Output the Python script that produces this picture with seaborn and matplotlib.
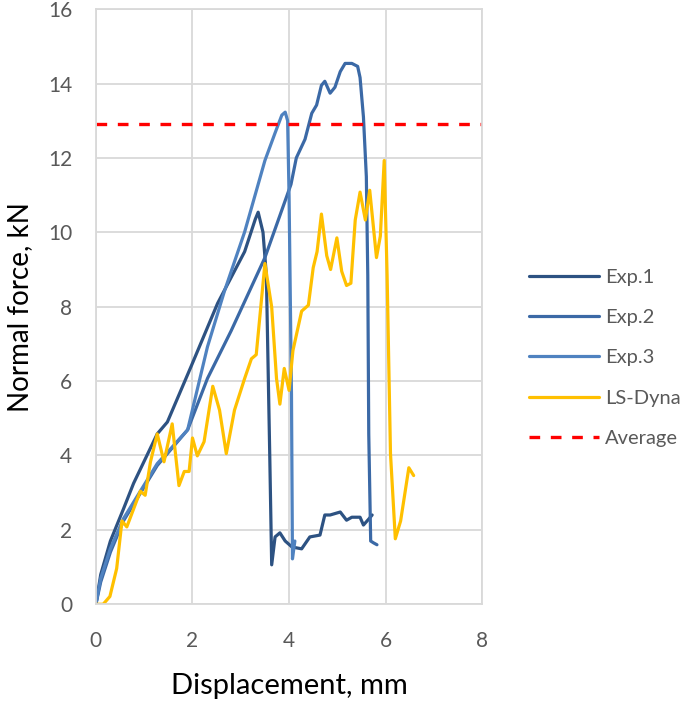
import numpy as np
import pandas as pd
import matplotlib
matplotlib.use("Agg")
import matplotlib.pyplot as plt
import seaborn as sns

exp1_x = [0, 0.1, 0.3, 0.57, 0.78, 1.27, 1.48, 1.97, 2.52, 3.08, 3.3, 3.36, 3.46, 3.53, 3.6, 3.64,
          3.71, 3.81, 3.92, 4.06, 4.26, 4.43, 4.64, 4.74, 4.85, 5.06, 5.19, 5.3, 5.47, 5.54, 5.65, 5.72]
exp1_y = [0, 0.8, 1.7, 2.56, 3.25, 4.58, 4.9, 6.39, 8.09, 9.48, 10.35, 10.54, 10.0, 8.84, 4.0, 1.06,
          1.81, 1.92, 1.7, 1.54, 1.49, 1.81, 1.86, 2.4, 2.4, 2.48, 2.26, 2.34, 2.34, 2.13, 2.29, 2.4]

exp2_x = [0, 0.1, 0.3, 0.57, 1.27, 1.9, 2.31, 2.8, 3.5, 4.04, 4.15, 4.33, 4.47, 4.57, 4.67, 4.74,
          4.85, 4.95, 5.06, 5.16, 5.3, 5.42, 5.47, 5.54, 5.6, 5.63, 5.65, 5.69, 5.75, 5.82]
exp2_y = [0, 0.6, 1.4, 2.24, 3.73, 4.69, 6.07, 7.35, 9.32, 11.29, 12.0, 12.5, 13.2, 13.42, 13.95, 14.06,
          13.74, 13.9, 14.32, 14.54, 14.54, 14.46, 14.16, 13.1, 11.5, 8.84, 4.58, 1.7, 1.65, 1.6]

exp3_x = [0, 0.1, 0.3, 0.57, 1.27, 1.9, 2.31, 2.66, 3.08, 3.36, 3.5, 3.71, 3.85, 3.92, 3.97,
          4.0, 4.05, 4.07, 4.12]
exp3_y = [0, 0.7, 1.5, 2.3, 3.78, 4.69, 6.92, 8.41, 10.01, 11.29, 11.93, 12.67, 13.15, 13.23, 13.0,
          10.97, 5.64, 1.22, 1.7]

dyna_x = [0, 0.15, 0.29, 0.43, 0.54, 0.64, 0.78, 0.92, 1.02, 1.13, 1.27, 1.41, 1.58, 1.72, 1.83,
          1.93, 2.0, 2.1, 2.24, 2.42, 2.56, 2.7, 2.87, 3.08, 3.22, 3.32, 3.5, 3.64, 3.74, 3.81,
          3.9, 4.0, 4.08, 4.26, 4.4, 4.5, 4.58, 4.67, 4.78, 4.86, 4.99, 5.09, 5.19, 5.28, 5.37,
          5.47, 5.58, 5.67, 5.81, 5.89, 5.97, 6.03, 6.1, 6.2, 6.31, 6.48, 6.58]
dyna_y = [0, 0.0, 0.21, 0.96, 2.24, 2.08, 2.56, 3.04, 2.93, 3.83, 4.58, 3.83, 4.85, 3.19, 3.57,
          3.57, 4.47, 3.99, 4.37, 5.86, 5.22, 4.05, 5.22, 6.07, 6.6, 6.71, 9.16, 7.99, 6.07, 5.38,
          6.34, 5.75, 6.82, 7.88, 8.04, 9.05, 9.48, 10.49, 9.37, 9.0, 9.85, 8.95, 8.57, 8.63, 10.33,
          11.08, 10.33, 11.13, 9.32, 9.9, 11.93, 8.84, 4.05, 1.76, 2.24, 3.67, 3.46]

avg_x = [0, 8]
avg_y = [12.9, 12.9]

series = {"Exp.1": (exp1_x, exp1_y), "Exp.2": (exp2_x, exp2_y),
          "Exp.3": (exp3_x, exp3_y), "LS-Dyna": (dyna_x, dyna_y)}
frames = []
for name, (xs, ys) in series.items():
    frames.append(pd.DataFrame({"x": xs, "y": ys, "series": name}))
df = pd.concat(frames, ignore_index=True)

sns.set_style("white")
plt.rcParams["font.family"] = ["Lato", "DejaVu Sans"]

fig = plt.figure(figsize=(6.85, 7.01), dpi=100)
ax = fig.add_axes([0.140, 0.138, 0.564, 0.849])

palette = {"Exp.1": "#2D5282", "Exp.2": "#3B69A6", "Exp.3": "#4F82C0", "LS-Dyna": "#FFC000"}
sns.lineplot(data=df, x="x", y="y", hue="series", palette=palette, sort=False,
             estimator=None, linewidth=2.3, ax=ax)
ax.plot(avg_x, avg_y, color="#FF0000", linestyle=(0, (3.2, 3.2)), linewidth=2.4, label="Average")

ax.set_xlim(0, 8)
ax.set_ylim(0, 16)
ax.set_xticks(range(0, 9, 2))
ax.set_yticks(range(0, 17, 2))
ax.grid(True, color="#D9D9D9", linewidth=1.3)
ax.set_axisbelow(True)
for s in ax.spines.values():
    s.set_color("#D9D9D9")
    s.set_linewidth(1.3)
ax.tick_params(length=0, labelsize=15, labelcolor="#595959")
ax.tick_params(axis="y", pad=17)
ax.tick_params(axis="x", pad=19)
ax.set_xlabel("Displacement, mm", fontsize=21, color="black", labelpad=16)
ax.set_ylabel("Normal force, kN", fontsize=20, color="black", labelpad=11)

leg = ax.legend(loc="center left", bbox_to_anchor=(1.073, 0.414), frameon=False,
                fontsize=14.5, handlelength=3.5, labelspacing=1.15, handletextpad=0.3)
for t in leg.get_texts():
    t.set_color("#595959")

fig.savefig("out.png", dpi=100)
